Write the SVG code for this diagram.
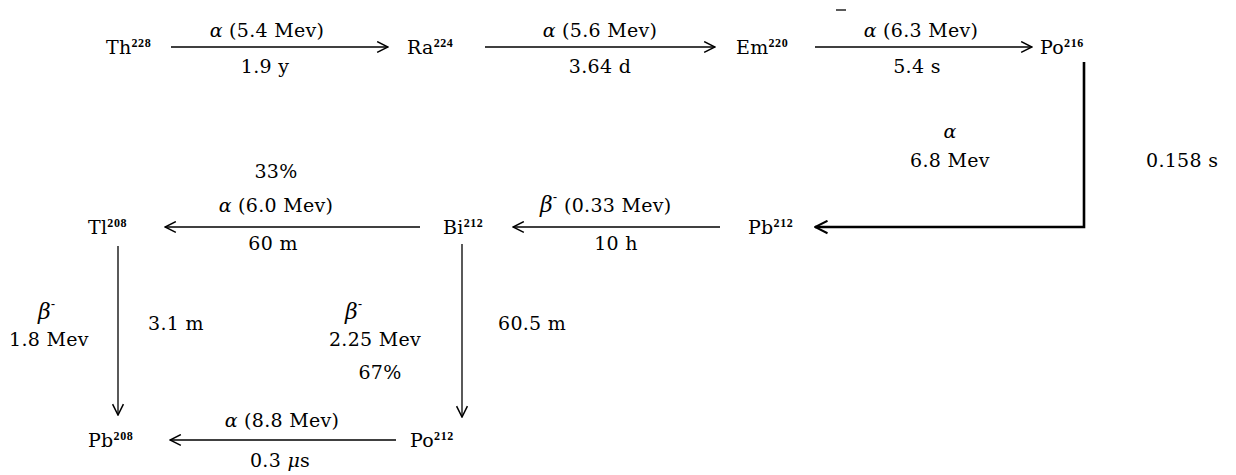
<svg xmlns="http://www.w3.org/2000/svg" width="1236" height="475" viewBox="0 0 1236 475">
<defs>
<marker id="ah" viewBox="0 0 12 12" refX="11" refY="6" markerWidth="13" markerHeight="13" markerUnits="userSpaceOnUse" orient="auto">
<path d="M1,1 L11,6 L1,11" fill="none" stroke="#000" stroke-width="1.4"/>
</marker>
<marker id="ahb" viewBox="0 0 12 12" refX="11" refY="6" markerWidth="15" markerHeight="15" markerUnits="userSpaceOnUse" orient="auto">
<path d="M1,1 L11,6 L1,11" fill="none" stroke="#000" stroke-width="1.6"/>
</marker>
</defs>
<style>
text{font-family:"DejaVu Serif","Liberation Serif",serif;font-size:19px;fill:#000;letter-spacing:0.3px}
.sup{font-family:"Liberation Serif",serif;font-size:12px;font-weight:bold;letter-spacing:0.6px}
.c{text-anchor:middle}
.g{font-style:italic}
.b{font-style:italic;font-size:22px}
.ln{stroke:#000;stroke-width:1.3;fill:none}
.thick{stroke:#000;stroke-width:2.6;fill:none}
</style>
<rect width="1236" height="475" fill="#fff"/>
<g id="connectors">
<line class="ln" x1="171" y1="47" x2="388" y2="47" marker-end="url(#ah)"/>
<line class="ln" x1="485" y1="47" x2="715" y2="47" marker-end="url(#ah)"/>
<line class="ln" x1="815" y1="47" x2="1032" y2="47" marker-end="url(#ah)"/>
<path class="thick" d="M1084,62 L1084,227 L815,227" marker-end="url(#ahb)"/>
<line class="ln" x1="720" y1="227" x2="513" y2="227" marker-end="url(#ah)"/>
<line class="ln" x1="420" y1="227" x2="165" y2="227" marker-end="url(#ah)"/>
<line class="ln" x1="118" y1="246" x2="118" y2="415" marker-end="url(#ah)"/>
<line class="ln" x1="462" y1="244" x2="462" y2="417" marker-end="url(#ah)"/>
<line class="ln" x1="396" y1="440" x2="170" y2="440" marker-end="url(#ah)"/>
<line class="ln" x1="836" y1="10" x2="846" y2="10"/>
</g>
<g id="Th228"><text x="106" y="54">Th<tspan class="sup" dy="-7">228</tspan></text></g>
<g id="Ra224"><text x="407" y="54">Ra<tspan class="sup" dy="-7">224</tspan></text></g>
<g id="Em220"><text x="736" y="54">Em<tspan class="sup" dy="-7">220</tspan></text></g>
<g id="Po216"><text x="1040" y="54">Po<tspan class="sup" dy="-7">216</tspan></text></g>
<g id="Pb212"><text x="748" y="234">Pb<tspan class="sup" dy="-7">212</tspan></text></g>
<g id="Bi212"><text x="443" y="234">Bi<tspan class="sup" dy="-7">212</tspan></text></g>
<g id="Tl208"><text x="88" y="234">Tl<tspan class="sup" dy="-7">208</tspan></text></g>
<g id="Pb208"><text x="88" y="447">Pb<tspan class="sup" dy="-7">208</tspan></text></g>
<g id="Po212"><text x="410" y="447">Po<tspan class="sup" dy="-7">212</tspan></text></g>
<g id="labels">
<text class="c" x="267" y="37"><tspan class="g">α</tspan> (5.4 Mev)</text>
<text class="c" x="265" y="73">1.9 y</text>
<text class="c" x="600" y="37"><tspan class="g">α</tspan> (5.6 Mev)</text>
<text class="c" x="600" y="73">3.64 d</text>
<text class="c" x="921" y="37"><tspan class="g">α</tspan> (6.3 Mev)</text>
<text class="c" x="917" y="73">5.4 s</text>
<text class="c g" x="950" y="138">α</text>
<text class="c" x="950" y="167">6.8 Mev</text>
<text x="1146" y="167">0.158 s</text>
<text x="540" y="212"><tspan class="b">β</tspan><tspan class="sup" dy="-11">-</tspan><tspan dy="11">  (0.33 Mev)</tspan></text>
<text class="c" x="616" y="250">10 h</text>
<text class="c" x="276" y="178">33%</text>
<text class="c" x="276" y="212"><tspan class="g">α</tspan> (6.0 Mev)</text>
<text class="c" x="273" y="250">60 m</text>
<text x="38" y="319"><tspan class="b">β</tspan><tspan class="sup" dy="-11">-</tspan></text>
<text class="c" x="49" y="346">1.8 Mev</text>
<text x="148" y="330">3.1 m</text>
<text x="345" y="319"><tspan class="b">β</tspan><tspan class="sup" dy="-11">-</tspan></text>
<text class="c" x="375" y="346">2.25 Mev</text>
<text class="c" x="380" y="379">67%</text>
<text x="498" y="330">60.5 m</text>
<text class="c" x="282" y="427"><tspan class="g">α</tspan> (8.8 Mev)</text>
<text class="c" x="280" y="467">0.3 <tspan class="g">μ</tspan>s</text>
</g>
</svg>
